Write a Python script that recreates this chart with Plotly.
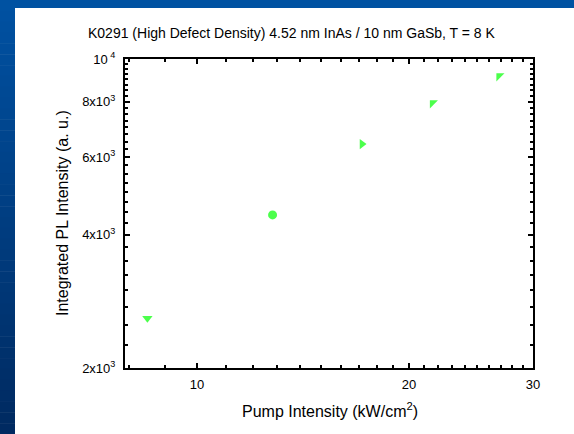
import numpy as np
import plotly.graph_objects as go

# Data
pump = [8.5, 12.8, 17.15, 21.6, 26.85]
pl = [2590, 4440, 6420, 7950, 9150]

ytickvals = [2000, 4000, 6000, 8000, 10000]
yticktext = ["2x10<sup>3</sup>", "4x10<sup>3</sup>", "6x10<sup>3</sup>", "8x10<sup>3</sup>", "10<sup> 4</sup>"]
xtickvals = [10, 20, 30]
xticktext = ["10", "20", "30"]

title = "K0291 (High Defect Density) 4.52 nm InAs / 10 nm GaSb, T = 8 K"
xtitle = "Pump Intensity (kW/cm<sup>2</sup>)"
ytitle = "Integrated PL Intensity (a. u.)"

W, H = 574, 434
L, R, T, B = 125, 41, 59, 66
pw, ph = W - L - R, H - T - B

def px(x):
    return (x - L) / pw

def py(y):
    return (H - B - y) / ph

symbols = ["triangle-down", "circle", "triangle-right", "triangle-nw", "triangle-nw"]
sizes = [9, 9, 9, 9, 9]

fig = go.Figure()
fig.add_trace(go.Scatter(
    x=pump, y=pl, mode="markers",
    marker=dict(color="#00FF00", size=sizes, symbol=symbols, line=dict(width=0)),
    showlegend=False, cliponaxis=False,
))

shapes = []
# top blue band
shapes.append(dict(type="rect", xref="paper", yref="paper", x0=px(0), x1=px(W), y0=py(8), y1=py(0),
                   fillcolor="rgb(0,82,162)", line=dict(width=0), layer="below"))
# left blue gradient band
n = 40
for i in range(n):
    y0p = i * H / n
    y1p = (i + 1) * H / n
    t = i / (n - 1)
    g = int(82 - t * 40)
    b = int(162 - t * 65)
    shapes.append(dict(type="rect", xref="paper", yref="paper", x0=px(0), x1=px(15),
                       y0=py(y1p + 0.5), y1=py(y0p), fillcolor=f"rgb(0,{g},{b})",
                       line=dict(width=0), layer="below"))
fig.update_layout(shapes=shapes)

axis_common = dict(
    showline=True, linecolor="black", linewidth=2, mirror="ticks",
    ticks="inside", ticklen=5, tickwidth=2, tickcolor="black",
    showgrid=False, zeroline=False,
    tickfont=dict(family="Liberation Sans, Arial", size=13, color="black"),
)

xminor = [v for v in range(8, 30) if v not in (10, 20)]
yminor = [v for v in range(2250, 10000, 250) if v % 2000 != 0]

fig.update_xaxes(type="log", range=[np.log10(7.9), np.log10(30)],
                 tickmode="array", tickvals=xtickvals, ticktext=xticktext,
                 ticklabelstandoff=3,
                 minor=dict(tickmode="array", tickvals=xminor, ticks="inside", ticklen=3,
                            tickwidth=2, tickcolor="black", showgrid=False),
                 **axis_common)
fig.update_yaxes(type="log", range=[np.log10(2000), np.log10(10000)],
                 tickmode="array", tickvals=ytickvals, ticktext=yticktext,
                 ticklabelstandoff=5,
                 minor=dict(tickmode="array", tickvals=yminor, ticks="inside", ticklen=3,
                            tickwidth=2, tickcolor="black", showgrid=False),
                 **axis_common)

fig.update_layout(
    width=W, height=H,
    margin=dict(l=L, r=R, t=T, b=B, pad=0),
    paper_bgcolor="white", plot_bgcolor="white",
    font=dict(family="Liberation Sans, Arial", color="black"),
    annotations=[
        dict(text=title, x=px(292), y=py(33), xref="paper", yref="paper", showarrow=False,
             xanchor="center", yanchor="middle", font=dict(size=14)),
        dict(text=xtitle, x=px(330), y=py(410), xref="paper", yref="paper", showarrow=False,
             xanchor="center", yanchor="middle", font=dict(size=16)),
        dict(text=ytitle, x=px(62), y=py(213), xref="paper", yref="paper", showarrow=False,
             xanchor="center", yanchor="middle", textangle=-90, font=dict(size=16)),
    ],
)

fig.write_html("out.html")
